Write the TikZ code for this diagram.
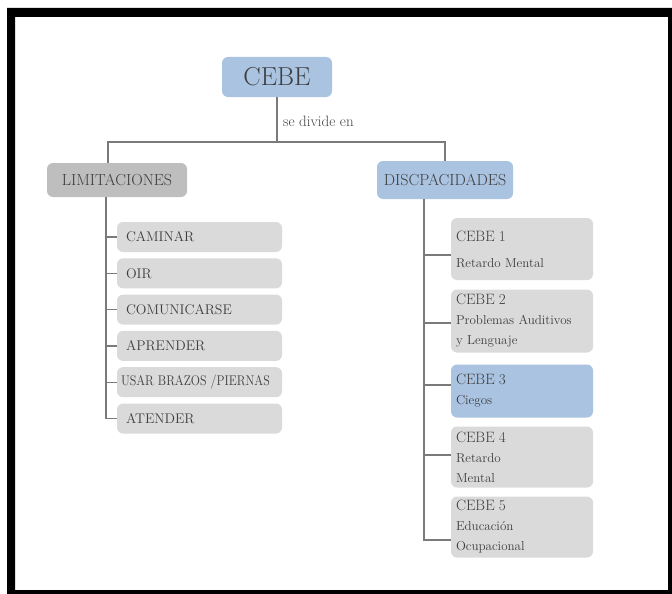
\documentclass[tikz,border=0pt]{standalone}
\usepackage{fontspec}
\definecolor{cebeblue}{HTML}{A9C3E1}
\definecolor{limgray}{HTML}{BEBEBE}
\definecolor{itemgray}{HTML}{DADADA}
\definecolor{inkgray}{HTML}{3E3E3E}
\definecolor{linegray}{HTML}{7A7A7A}
\tikzset{
  box/.style={rounded corners=6pt,draw=none,text=inkgray,inner sep=0pt},
  bluebox/.style={box,fill=cebeblue},
  limbox/.style={box,fill=limgray},
  itembox/.style={box,fill=itemgray,minimum width=165pt,minimum height=30pt,
    text width=147pt,align=left,font=\fontsize{14}{16}\selectfont},
  cebebox/.style={box,fill=itemgray,minimum width=142pt,
    text width=132pt,align=left,font=\fontsize{13}{20}\selectfont},
  link/.style={draw=linegray,line width=1.4pt},
}
\newcommand{\cebenum}[1]{{\fontsize{15}{20}\selectfont CEBE \oldstylenums{#1}}}
\begin{document}
\begin{tikzpicture}[x=1pt,y=-1pt]
\useasboundingbox (0,0) rectangle (672,594);
% ---- marco negro: grueso arriba/izq., fino abajo/der. ----
\fill[black,even odd rule] (7,8) rectangle (672,594) (15,17) rectangle (668,590);
% ---- raíz ----
\node[bluebox,minimum width=110pt,minimum height=40pt,
  font=\fontsize{26}{28}\selectfont] (cebe) at (277,77) {CEBE};
\node[text=inkgray,anchor=west,inner sep=0pt,font=\fontsize{15}{17}\selectfont] (divide) at (283,121) {se divide en};
% ---- dos ramas ----
\node[limbox,minimum width=140pt,minimum height=34pt,
  font=\fontsize{16}{18}\selectfont] (lim) at (117,180) {LIMITACIONES};
\node[bluebox,minimum width=136pt,minimum height=38pt,
  font=\fontsize{16}{18}\selectfont] (dis) at (445,180) {DISCPACIDADES};
\coordinate (jl) at (108,142);
\coordinate (jr) at (445,142);
\draw[link] (cebe) -- (cebe |- jl);
\draw[link] (lim.north -| jl) -- (jl) -- (jr) -- (dis.north);
% ---- limitaciones ----
\coordinate (sl) at (106,0);
\foreach \t [count=\i] in {CAMINAR,OIR,COMUNICARSE,APRENDER,{\hspace*{-5pt}\scalebox{0.86}[1]{USAR BRAZOS /PIERNAS}},ATENDER}{
  \node[itembox] (lim\i) at (199.5,{237+36.3*(\i-1)}) {\t};
}
\draw[link] (lim.south -| sl) |- (lim6.west);
\foreach \i in {1,...,5}{
  \draw[link] (lim\i.west -| sl) -- (lim\i.west);
}
% ---- discapacidades ----
\node[cebebox,minimum height=62pt] (dis1) at (522,249)
  {\cebenum{1}\\[6pt]Retardo Mental};
\node[cebebox,minimum height=63pt] (dis2) at (522,321)
  {\cebenum{2}\\Problemas Auditivos\\y Lenguaje};
\node[cebebox,fill=cebeblue,minimum height=53pt] (dis3) at (522,391)
  {\cebenum{3}\\Ciegos};
\node[cebebox,minimum height=61pt] (dis4) at (522,457)
  {\cebenum{4}\\Retardo\\Mental};
\node[cebebox,minimum height=61pt] (dis5) at (522,527)
  {\cebenum{5}\\Educación\\Ocupacional};
\coordinate (sr) at (424,0);
\draw[link] (dis.south -| sr) |- ([yshift=-13pt]dis5.west);
\foreach \i/\d in {1/-6,2/-2,3/6,4/2}{
  \draw[link] ([yshift=\d pt]dis\i.west -| sr) -- ([yshift=\d pt]dis\i.west);
}
\end{tikzpicture}
\end{document}
